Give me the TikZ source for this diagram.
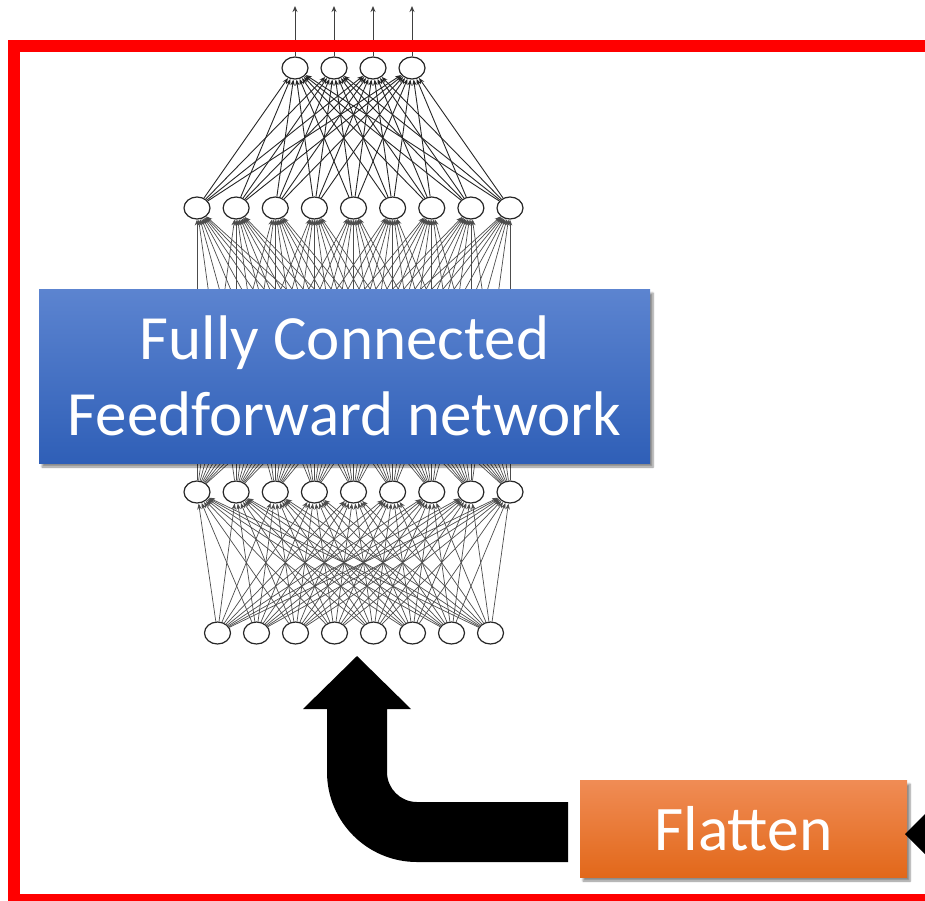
\documentclass[tikz,border=0pt]{standalone}
\usepackage{fontspec}
\setmainfont{Carlito}
\usetikzlibrary{arrows.meta,shapes.geometric,shadows,shadows.blur}
\definecolor{frameRed}{RGB}{255,0,0}
\definecolor{blueTop}{RGB}{92,132,208}
\definecolor{blueBot}{RGB}{47,95,183}
\definecolor{orgTop}{RGB}{240,140,85}
\definecolor{orgMid}{RGB}{242,122,40}
\definecolor{orgBot}{RGB}{226,104,26}
\tikzset{
  neuron/.style={ellipse,draw=black!85,line width=1.2pt,fill=white,minimum width=26pt,minimum height=22pt,inner sep=0pt},
  connA/.style={draw=black!85,line width=0.9pt,-{Stealth[length=6pt,width=4.5pt]}},
  connB/.style={draw=black!70,line width=0.7pt,-{Stealth[length=6pt,width=4.5pt]}},
  outarrow/.style={draw=black!75,line width=1pt,-{Stealth[length=6pt,width=5pt]}},
  bluebox/.style={rectangle,inner sep=0pt,minimum width=611pt,minimum height=174pt,
    top color=blueTop,bottom color=blueBot,text=white,align=center,
    font=\fontsize{63}{76}\selectfont,
    blur shadow={shadow xshift=3pt,shadow yshift=-4pt,shadow blur steps=6,shadow opacity=45}},
  orangebox/.style={rectangle,inner sep=0pt,minimum width=327pt,minimum height=97pt,
    top color=orgTop,middle color=orgMid,bottom color=orgBot,text=white,
    font=\fontsize{63.5}{76}\selectfont,
    blur shadow={shadow xshift=3pt,shadow yshift=-4pt,shadow blur steps=6,shadow opacity=45}},
  bigarrow/.style={fill=black,draw=none},
  redframe/.style={draw=frameRed,line width=12pt,line join=miter}
}
\begin{document}
\begin{tikzpicture}[x=1pt,y=-1pt]
\useasboundingbox (0,0) rectangle (925,900);
\clip (0,0) rectangle (925,900);
% layers
\foreach \i in {1,...,4} \node[neuron] (o\i) at ({295+39*(\i-1)},68) {};
\foreach \i in {1,...,9} \node[neuron] (a\i) at ({197+39.125*(\i-1)},208) {};
\foreach \i in {1,...,9} \node[neuron] (b\i) at ({197+39.125*(\i-1)},492) {};
\foreach \i in {1,...,8} \node[neuron] (c\i) at ({217.5+39*(\i-1)},633) {};
% connections
\foreach \i in {1,...,9} \foreach \j in {1,...,4} \draw[connA] (a\i) -- (o\j);
\foreach \i in {1,...,9} \foreach \j in {1,...,9} \draw[connB] (b\i) -- (a\j);
\foreach \i in {1,...,8} \foreach \j in {1,...,9} \draw[connB] (c\i) -- (b\j);
% output arrows
\foreach \i in {1,...,4} {
  \coordinate (t\i) at ({295+39*(\i-1)},6);
  \draw[outarrow] (o\i) -- (t\i);
}
% blue box
\node[bluebox] (fc) at (344.5,376) {Fully Connected\\Feedforward network};
% big bent arrow
\path[bigarrow] (357,656) -- (411,709) -- (387,709) -- (387,772)
  .. controls (387,788.6) and (400.4,802) .. (417,802)
  -- (568,802) -- (568,862) -- (417,862)
  .. controls (367.3,862) and (327,821.7) .. (327,772)
  -- (327,709) -- (303,709) -- cycle;
% flatten
\node[orangebox] (fl) at (743.5,828.5) {Flatten};
% right arrowhead
\coordinate (rtip) at (905,834);
\coordinate (rtop) at (926,813);
\coordinate (rbot) at (926,855);
\fill[black] (rtip) -- (rtop) -- (rbot) -- cycle;
% red frame
\coordinate (fr1) at (935,46);
\coordinate (fr2) at (14,46);
\coordinate (fr3) at (14,900);
\coordinate (fr4) at (935,900);
\draw[redframe] (fr1) -- (fr2) -- (fr3) -- (fr4);
\end{tikzpicture}
\end{document}
